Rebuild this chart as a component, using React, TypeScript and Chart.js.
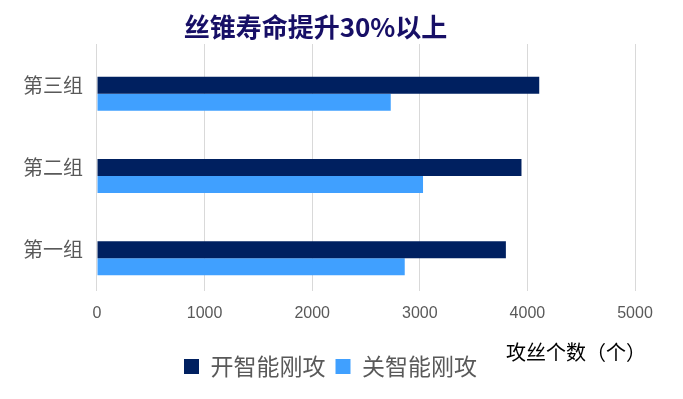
import React, { useEffect, useRef } from "react";
import { Chart, registerables } from "chart.js";

Chart.register(...registerables);

const TITLE = "丝锥寿命提升30%以上";
const X_AXIS_TITLE = "攻丝个数（个）";
const categories = ["第三组", "第二组", "第一组"];
const seriesOnName = "开智能刚攻";
const seriesOffName = "关智能刚攻";
const seriesOn = [4110, 3945, 3800];
const seriesOff = [2730, 3030, 2860];
const xTicksMin = 0;
const xTicksMax = 5000;
const xTickStep = 1000;

const DARK = "#002060";
const LIGHT = "#40A0FF";
const GRAY = "#595959";
const GRID = "#D9D9D9";
const TITLE_COLOR = "#170F66";
const CJK = '"Noto Sans CJK SC", "Noto Sans", sans-serif';
const LATIN = '"Liberation Sans", Arial, sans-serif';

const textPlugin = {
  id: "customTexts",
  afterLayout(chart: any) {
    if (chart.legend) chart.legend.left += 17;
  },
  afterDraw(chart: any) {
    const { ctx, chartArea } = chart;
    ctx.save();
    ctx.font = `bold 26px ${CJK}`;
    ctx.fillStyle = TITLE_COLOR;
    ctx.textAlign = "center";
    ctx.textBaseline = "middle";
    ctx.fillText(TITLE, chart.width * 0.461, 19.5);
    ctx.font = `20px ${CJK}`;
    ctx.fillStyle = "#000000";
    ctx.textAlign = "right";
    ctx.fillText(X_AXIS_TITLE, chartArea.right + 11, chartArea.bottom + 61);
    ctx.restore();
  },
};

export default function App() {
  const ref = useRef<HTMLCanvasElement | null>(null);

  useEffect(() => {
    if (!ref.current) return;
    const chart = new Chart(ref.current, {
      type: "bar",
      data: {
        labels: categories,
        datasets: [
          {
            label: "",
            data: categories.map(() => null),
            backgroundColor: "rgba(0,0,0,0)",
            borderWidth: 0,
          },
          {
            label: seriesOnName,
            data: seriesOn,
            backgroundColor: DARK,
            borderWidth: 0,
          },
          {
            label: seriesOffName,
            data: seriesOff,
            backgroundColor: LIGHT,
            borderWidth: 0,
          },
        ],
      },
      options: {
        indexAxis: "y",
        animation: false,
        responsive: true,
        maintainAspectRatio: false,
        devicePixelRatio: 1,
        datasets: {
          bar: {
            categoryPercentage: 0.62,
            barPercentage: 1.0,
          },
        },
        layout: {
          padding: { top: 36, left: 1, right: 40, bottom: 3 },
        },
        plugins: {
          title: { display: false },
          tooltip: { enabled: false },
          legend: {
            display: true,
            position: "bottom",
            labels: {
              filter: (item: any) => item.text !== "",
              boxWidth: 15,
              boxHeight: 15,
              padding: 10,
              color: GRAY,
              font: { family: CJK, size: 23 },
            },
          },
        },
        scales: {
          x: {
            type: "linear",
            position: "bottom",
            min: xTicksMin,
            max: xTicksMax,
            afterFit: (scale: any) => {
              scale.height = 54;
            },
            ticks: {
              stepSize: xTickStep,
              padding: 13,
              color: GRAY,
              font: { family: LATIN, size: 16 },
              callback: (v: any) => String(v),
            },
            grid: {
              display: true,
              color: GRID,
              lineWidth: 1,
              drawTicks: false,
            },
            border: { display: false },
          },
          y: {
            type: "category",
            ticks: {
              padding: 14,
              color: GRAY,
              font: { family: CJK, size: 20 },
            },
            grid: { display: false, drawTicks: false },
            border: { display: false },
          },
        },
      },
      plugins: [textPlugin],
    } as any);
    return () => chart.destroy();
  }, []);

  return (
    <div style={{ width: 667, height: 383, position: "relative" }}>
      <canvas ref={ref} />
    </div>
  );
}
